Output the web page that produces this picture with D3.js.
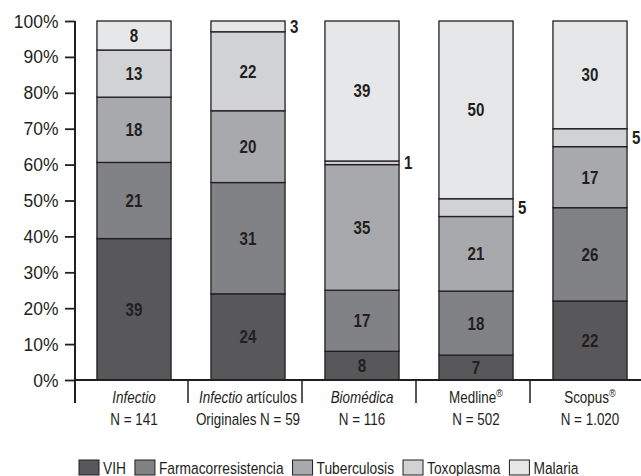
<!DOCTYPE html>
<html>
<head>
<meta charset="utf-8">
<script src="https://cdn.jsdelivr.net/npm/d3@7"></script>
<style>
  body { margin: 0; background: #fff; }
  svg { display: block; font-family: "Liberation Sans", Arial, sans-serif; }
</style>
</head>
<body>
<div id="chart"></div>
<script>
// data
const categories = ["Infectio", "Infectio artículos", "Biomédica", "Medline", "Scopus"];
const italicPart = ["Infectio", "Infectio", "Biomédica", "", ""];
const normalPart = ["", " artículos", "", "Medline", "Scopus"];
const registered = [false, false, false, true, true];
const nLabels = ["N = 141", "Originales N = 59", "N = 116", "N = 502", "N = 1.020"];

const seriesNames = ["VIH", "Farmacorresistencia", "Tuberculosis", "Toxoplasma", "Malaria"];
const vih = [39, 24, 8, 7, 22];
const farmaco = [21, 31, 17, 18, 26];
const tuberculosis = [18, 20, 35, 21, 17];
const toxoplasma = [13, 22, 1, 5, 5];
const malaria = [8, 3, 39, 50, 30];
const yTicks = [0, 0.1, 0.2, 0.3, 0.4, 0.5, 0.6, 0.7, 0.8, 0.9, 1];

const colors = ["#58585a", "#818285", "#a8a9ac", "#d1d2d4", "#e6e7e8"];
const ink = "#231f20";
const narrow = 0.84; // no condensed font installed, squeeze Liberation Sans instead

// build table for the stack
const seriesValues = [vih, farmaco, tuberculosis, toxoplasma, malaria];
const table = categories.map((c, i) => {
  const row = { cat: c };
  seriesNames.forEach((s, j) => { row[s] = seriesValues[j][i]; });
  return row;
});

const width = 641, height = 476;
const axisX = 75, axisBottom = 380, axisTop = 21;

const svg = d3.select("#chart").append("svg")
  .attr("width", width)
  .attr("height", height);

const x = d3.scaleBand()
  .domain(categories)
  .range([77, 647])
  .paddingInner(0.35)
  .paddingOuter(0.175);

const y = d3.scaleLinear()
  .domain([0, 1])
  .range([axisBottom, axisTop]);

const color = d3.scaleOrdinal().domain(seriesNames).range(colors);

const stacked = d3.stack()
  .keys(seriesNames)
  .offset(d3.stackOffsetExpand)(table);

const squeeze = (px, py, k = narrow) => `translate(${px},${py}) scale(${k},1)`;

// bars
const layers = svg.append("g").selectAll("g")
  .data(stacked)
  .enter().append("g")
  .attr("fill", d => color(d.key));

layers.selectAll("rect")
  .data(d => d)
  .enter().append("rect")
  .attr("x", d => x(d.data.cat))
  .attr("width", x.bandwidth())
  .attr("y", d => y(d[1]))
  .attr("height", d => y(d[0]) - y(d[1]))
  .attr("stroke", ink)
  .attr("stroke-width", 1.3);

// value labels, small ones sit right of the bar
layers.each(function (layer) {
  d3.select(this).selectAll("text")
    .data(layer)
    .enter().append("text")
    .attr("transform", d => {
      const v = d.data[layer.key];
      const px = v < 6 ? x(d.data.cat) + x.bandwidth() + 5 : x(d.data.cat) + x.bandwidth() / 2;
      return squeeze(px, (y(d[0]) + y(d[1])) / 2);
    })
    .attr("dy", "0.36em")
    .attr("text-anchor", d => d.data[layer.key] < 6 ? "start" : "middle")
    .attr("fill", ink)
    .attr("font-weight", "bold")
    .attr("font-size", 18)
    .text(d => d.data[layer.key]);
});

// y axis
const yAxis = svg.append("g")
  .attr("transform", `translate(${axisX},0)`)
  .call(d3.axisLeft(y).tickValues(yTicks).tickFormat(d3.format(".0%")).tickSize(10).tickSizeOuter(0).tickPadding(6));
yAxis.select(".domain").remove();
yAxis.selectAll(".tick line").attr("stroke", ink).attr("stroke-width", 1.8);
yAxis.selectAll(".tick text")
  .attr("fill", ink)
  .attr("font-size", 19)
  .attr("font-family", null)
  .attr("x", -16.5 / 0.92)
  .attr("transform", "scale(0.92,1)");

svg.append("line")
  .attr("x1", axisX).attr("x2", axisX)
  .attr("y1", axisTop).attr("y2", 403)
  .attr("stroke", ink).attr("stroke-width", 2);

// x axis
svg.append("line")
  .attr("x1", axisX).attr("x2", width)
  .attr("y1", axisBottom).attr("y2", axisBottom)
  .attr("stroke", ink).attr("stroke-width", 2);

const gap = (x.step() - x.bandwidth()) / 2;
svg.append("g").selectAll("line")
  .data(categories.slice(1))
  .enter().append("line")
  .attr("x1", d => x(d) - gap - 3).attr("x2", d => x(d) - gap - 3)
  .attr("y1", axisBottom).attr("y2", 403)
  .attr("stroke", ink).attr("stroke-width", 1.5);

// category labels
const catG = svg.append("g").attr("fill", ink).attr("font-size", 16).attr("text-anchor", "middle");
categories.forEach((c, i) => {
  const cx = x(c) + x.bandwidth() / 2;
  const t1 = catG.append("text").attr("transform", squeeze(cx, 403));
  if (italicPart[i]) t1.append("tspan").attr("font-style", "italic").text(italicPart[i]);
  if (normalPart[i]) t1.append("tspan").text(normalPart[i]);
  if (registered[i]) t1.append("tspan").attr("font-size", 11).attr("dy", -6).text("®");
  catG.append("text").attr("transform", squeeze(cx, 425)).text(nLabels[i]);
});

// legend
const legendNarrow = 0.81;
const legend = svg.append("g").attr("font-size", 17).attr("fill", ink);
let lx = 79;
seriesNames.forEach(s => {
  legend.append("rect")
    .attr("x", lx).attr("y", 460)
    .attr("width", 20).attr("height", 15)
    .attr("fill", color(s))
    .attr("stroke", ink).attr("stroke-width", 1);
  const t = legend.append("text")
    .attr("transform", squeeze(lx + 24, 474, legendNarrow))
    .text(s);
  lx += 24 + t.node().getComputedTextLength() * legendNarrow + 9;
});
</script>
</body>
</html>
